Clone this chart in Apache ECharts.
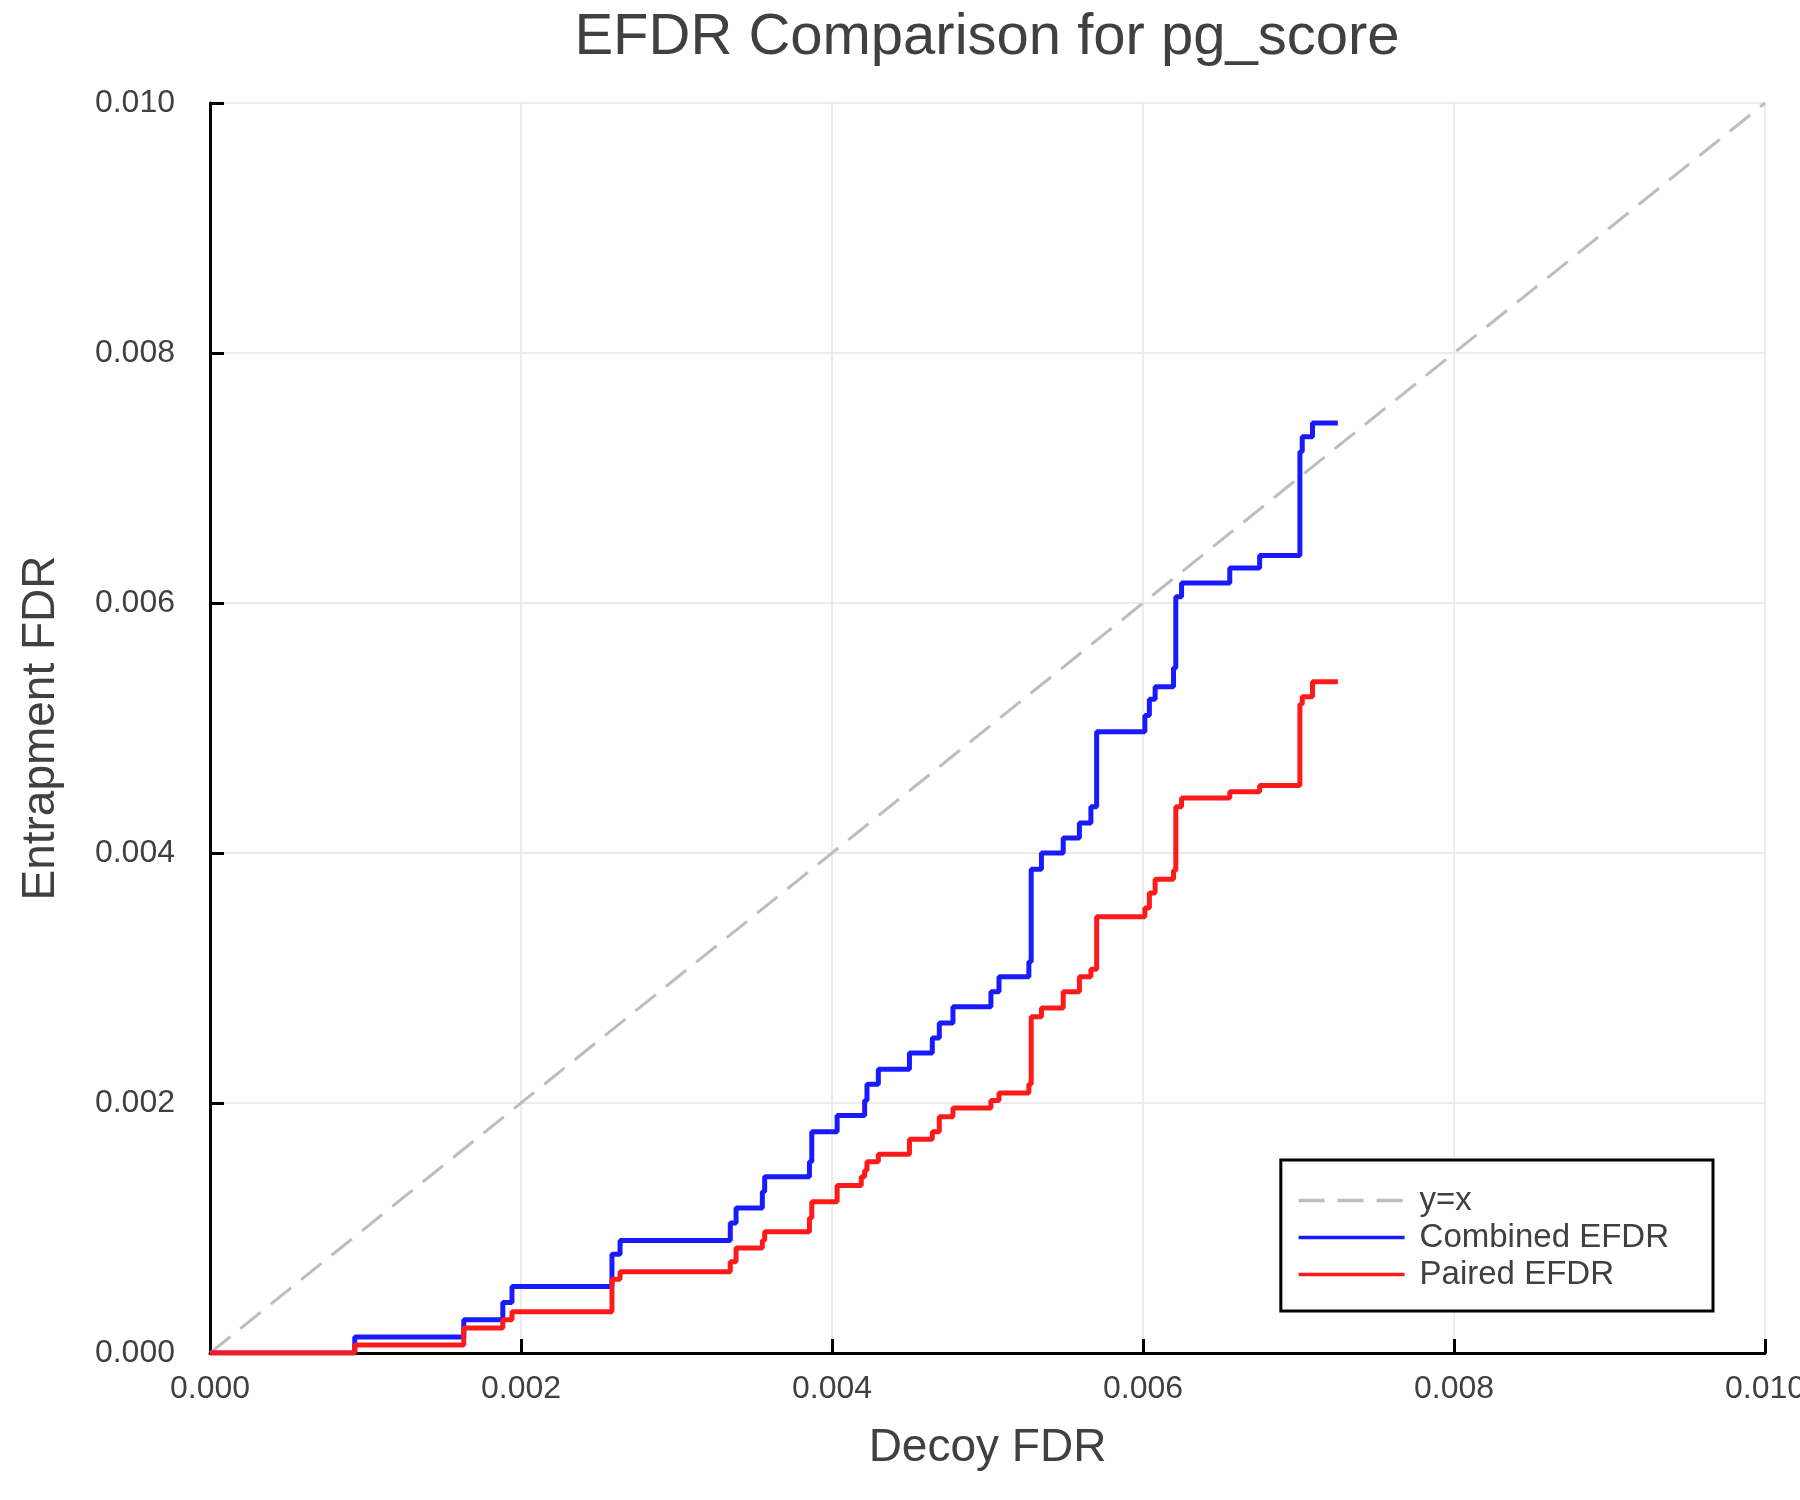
<!DOCTYPE html>
<html>
<head>
<meta charset="utf-8">
<script src="https://cdn.jsdelivr.net/npm/echarts@6/dist/echarts.min.js"></script>
<style>
html,body{margin:0;padding:0;background:#fff;}
#chart{width:1800px;height:1500px;}
</style>
</head>
<body>
<div id="chart"></div>
<script>
// Decoy FDR breakpoints (x), and entrapment FDR values after each step
const decoyFdr = [0, 0.000931, 0.001632, 0.001883, 0.001942, 0.002585, 0.002637, 0.003346, 0.003383, 0.003552, 0.003567,
  0.003855, 0.00387, 0.004033, 0.004188, 0.00421, 0.004225, 0.004298, 0.004498, 0.004645, 0.00469, 0.004778,
  0.005022, 0.005074, 0.005266, 0.005281, 0.005347, 0.005487, 0.005591, 0.005665, 0.005702, 0.006012, 0.006041,
  0.006078, 0.006196, 0.006211, 0.006248, 0.006558, 0.00675, 0.007009, 0.007024, 0.00709, 0.007253];
const combinedEfdr = [0, 0.000129, 0.000267, 0.000404, 0.000533, 0.00079, 0.0009, 0.00104, 0.00116, 0.00129, 0.00141,
  0.00153, 0.00177, 0.0019, 0.0019, 0.00202, 0.00215, 0.00227, 0.0024, 0.00252, 0.00264, 0.00277,
  0.00289, 0.00301, 0.00313, 0.00387, 0.004, 0.00412, 0.00424, 0.00437, 0.00497, 0.0051, 0.00523,
  0.00533, 0.00548, 0.00605, 0.00616, 0.00628, 0.00638, 0.00721, 0.00733, 0.00744, 0.00744];
const pairedEfdr = [0, 0.000064, 0.0002, 0.000267, 0.00033, 0.00059, 0.00065, 0.00073, 0.00084, 0.0009, 0.00097,
  0.00108, 0.00121, 0.00134, 0.00141, 0.00146, 0.00153, 0.00159, 0.00171, 0.00177, 0.00189, 0.00196,
  0.00202, 0.00208, 0.00215, 0.00269, 0.00276, 0.00289, 0.00301, 0.00307, 0.00349, 0.00356, 0.00368,
  0.00379, 0.00386, 0.00437, 0.00444, 0.00449, 0.00454, 0.00519, 0.00525, 0.00537, 0.00537];
const diagonalX = [0, 0.01];
const diagonalY = [0, 0.01];
const tickValues = [0, 0.002, 0.004, 0.006, 0.008, 0.010];
const seriesNames = ['y=x', 'Combined EFDR', 'Paired EFDR'];

const zip = (xs, ys) => xs.map((x, i) => [x, ys[i]]);
const FONT = '"Liberation Sans", Arial, Helvetica, sans-serif';
const TXT = '#404040';

const chart = echarts.init(document.getElementById('chart'), null, {renderer: 'canvas'});
const axisCommon = {
  type: 'value', min: tickValues[0], max: tickValues[tickValues.length - 1], interval: 0.002,
  axisLine: {show: true, lineStyle: {color: '#000', width: 3}},
  axisTick: {show: true, inside: true, length: 14, lineStyle: {color: '#000', width: 3}},
  splitLine: {show: true, lineStyle: {color: '#e6e6e6', width: 1.5}},
  axisLabel: {color: TXT, fontSize: 32, fontFamily: FONT, formatter: v => v.toFixed(3)},
  nameLocation: 'middle',
  nameTextStyle: {color: TXT, fontSize: 46, fontFamily: FONT}
};
chart.setOption({
  animation: false,
  backgroundColor: '#fff',
  title: {
    text: 'EFDR Comparison for pg_score',
    left: 987, top: 9, textAlign: 'center', padding: 0,
    textStyle: {color: TXT, fontSize: 58, fontWeight: 'normal', fontFamily: FONT}
  },
  grid: {left: 210, right: 35, top: 103, bottom: 147, containLabel: false, outerBoundsMode: 'none'},
  xAxis: Object.assign({}, axisCommon, {
    name: 'Decoy FDR', nameGap: 72,
    axisLabel: Object.assign({}, axisCommon.axisLabel, {margin: 20, showMaxLabel: true})
  }),
  yAxis: Object.assign({}, axisCommon, {
    name: 'Entrapment FDR', nameGap: 146, nameRotate: 90,
    axisLabel: Object.assign({}, axisCommon.axisLabel, {margin: 35})
  }),
  legend: {
    orient: 'vertical', right: 87, bottom: 189,
    data: seriesNames,
    padding: [22, 44, 18, 16],
    itemWidth: 106, itemHeight: 14, itemGap: 0,
    itemStyle: {opacity: 0},
    lineStyle: {width: 3.5},
    borderColor: '#000', borderWidth: 3, backgroundColor: '#fff',
    textStyle: {color: TXT, fontSize: 33, fontFamily: FONT, lineHeight: 37, padding: [0, 0, 0, 10]}
  },
  series: [
    {name: seriesNames[0], type: 'line', data: zip(diagonalX, diagonalY), symbol: 'none',
     lineStyle: {color: '#bdbdbd', width: 3, type: [26, 13]}, itemStyle: {color: '#bdbdbd'}},
    {name: seriesNames[1], type: 'line', step: 'end', data: zip(decoyFdr, combinedEfdr), symbol: 'none',
     lineStyle: {color: '#1a1aff', width: 5}, itemStyle: {color: '#1a1aff'}},
    {name: seriesNames[2], type: 'line', step: 'end', data: zip(decoyFdr, pairedEfdr), symbol: 'none',
     lineStyle: {color: '#ff1a1a', width: 5}, itemStyle: {color: '#ff1a1a'}}
  ]
});
</script>
</body>
</html>
